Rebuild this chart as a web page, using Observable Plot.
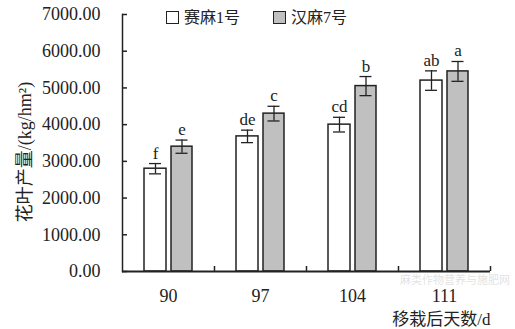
<!DOCTYPE html>
<html>
<head>
<meta charset="utf-8">
<script src="https://cdn.jsdelivr.net/npm/d3@7"></script>
<script src="https://cdn.jsdelivr.net/npm/@observablehq/plot@0.6"></script>
<style>
  body { margin: 0; background: #fff; }
  #wrap { position: relative; width: 515px; height: 329px; overflow: hidden; }
  .lg { position: absolute; font-family: "Liberation Serif", "Noto Sans CJK SC", serif; font-size: 16px; color: #222; line-height: 16px; }
  .box { position: absolute; width: 11px; height: 11px; border: 1.5px solid #222; }
  .wm { position: absolute; font-family: "Noto Sans CJK SC", sans-serif; font-size: 11px; line-height: 11px; color: #000; opacity: 0.12; white-space: nowrap; }
</style>
</head>
<body>
<div id="wrap"></div>
<script>
// ---- data ----
const days = ["90", "97", "104", "111"];
const varieties = ["赛麻1号", "汉麻7号"];
const yieldSaima = [2800, 3680, 4000, 5200];
const errSaima = [140, 170, 200, 265];
const lettersSaima = ["f", "de", "cd", "ab"];
const yieldHanma = [3400, 4300, 5050, 5450];
const errHanma = [180, 200, 260, 270];
const lettersHanma = ["e", "c", "b", "a"];
const yTicks = [0, 1000, 2000, 3000, 4000, 5000, 6000, 7000];
const yLabel = "花叶产量/(kg/hm²)";
const xLabel = "移栽后天数/d";
const watermark = "麻类作物营养与施肥网";

const saima = days.map((d, i) => ({day: d, v: yieldSaima[i], e: errSaima[i], t: lettersSaima[i]}));
const hanma = days.map((d, i) => ({day: d, v: yieldHanma[i], e: errHanma[i], t: lettersHanma[i]}));

const W = 515, H = 329, mL = 122, mR = 25, mT = 14, mB = 58;
const serif = "Liberation Serif, Noto Sans CJK SC, serif";
const ink = "#222";
const gray = "#c0c0c0";

// offsets of each series within a day band (band = 92px)
const bandW = (W - mL - mR) / days.length;
const wL = 22, wR = bandW - 44;     // white bar insets
const gL = 49, gR = bandW - 70;     // gray bar insets
const wC = (wL + (bandW - wR)) / 2 - bandW / 2;
const gC = (gL + (bandW - gR)) / 2 - bandW / 2;
const cap = 6;

function seriesMarks(data, fill, iL, iR, c) {
  return [
    Plot.barY(data, {x: "day", y: "v", fill, stroke: ink, strokeWidth: 1.5, insetLeft: iL, insetRight: iR}),
    Plot.ruleX(data, {x: "day", y1: d => d.v - d.e, y2: d => d.v + d.e, dx: c, stroke: ink, strokeWidth: 1.3}),
    Plot.tickY(data, {x: "day", y: d => d.v + d.e, stroke: ink, strokeWidth: 1.3,
      insetLeft: bandW / 2 + c - cap, insetRight: bandW / 2 - c - cap}),
    Plot.tickY(data, {x: "day", y: d => d.v - d.e, stroke: ink, strokeWidth: 1.3,
      insetLeft: bandW / 2 + c - cap, insetRight: bandW / 2 - c - cap}),
    Plot.text(data, {x: "day", y: d => d.v + d.e, text: "t", dx: c, dy: -5, lineAnchor: "bottom",
      fontFamily: serif, fontSize: 17, fill: ink})
  ];
}

const chart = Plot.plot({
  width: W, height: H,
  marginLeft: mL, marginRight: mR, marginTop: mT, marginBottom: mB,
  style: {background: "#fff", color: ink, fontFamily: serif},
  x: {domain: days, padding: 0, label: null},
  y: {domain: [0, 7000], label: null},
  marks: [
    Plot.axisY({ticks: yTicks, tickFormat: d3.format(".2f"), tickSize: 0, tickPadding: 22,
      fontSize: 18, fontFamily: serif, fill: ink, label: null}),
    Plot.ruleY(yTicks, {y: d => d, stroke: ink, strokeWidth: 1.5, insetRight: (W - mL - mR) - 5}),
    Plot.axisX({tickSize: 0, tickPadding: 18, fontSize: 18, fontFamily: serif, fill: ink, label: null}),
    ...seriesMarks(saima, "#fff", wL, wR, wC),
    ...seriesMarks(hanma, gray, gL, gR, gC),
    Plot.ruleX(days, {x: d => d, y1: 0, y2: 0, dx: bandW / 2, insetBottom: 5, stroke: ink, strokeWidth: 1.5}),
    Plot.frame({anchor: "left", stroke: ink, strokeWidth: 1.5}),
    Plot.ruleY([0], {stroke: ink, strokeWidth: 2}),
    Plot.text([yLabel], {frameAnchor: "left", textAnchor: "middle", rotate: -90, dx: -97, dy: 9,
      fontSize: 18, fontFamily: serif, fill: ink}),
    Plot.text([xLabel], {frameAnchor: "bottom-right", textAnchor: "end", lineAnchor: "bottom", dy: 53, fontSize: 17,
      fontFamily: serif, fill: ink})
  ]
});

const wrap = document.getElementById("wrap");
wrap.appendChild(chart);

// legend (inside the plot area, top)
const legendItems = [
  {label: varieties[0], fill: "#fff", box: 166, text: 184},
  {label: varieties[1], fill: gray, box: 273, text: 291}
];
for (const it of legendItems) {
  const b = document.createElement("div");
  b.className = "box";
  b.style.left = it.box + "px"; b.style.top = "11px"; b.style.background = it.fill;
  wrap.appendChild(b);
  const t = document.createElement("div");
  t.className = "lg";
  t.style.left = it.text + "px"; t.style.top = "10px";
  t.textContent = it.label;
  wrap.appendChild(t);
}

// faint source watermark
const wm = document.createElement("div");
wm.className = "wm";
wm.style.left = "400px"; wm.style.top = "274px";
wm.textContent = watermark;
wrap.appendChild(wm);
</script>
</body>
</html>
